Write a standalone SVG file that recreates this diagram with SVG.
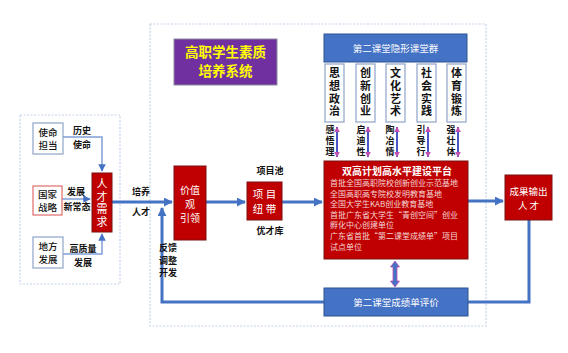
<svg xmlns="http://www.w3.org/2000/svg" width="568" height="353" viewBox="0 0 568 353">
<defs>
<style>
text{font-family:"Noto Sans CJK SC","Noto Sans",sans-serif;}
.frame{fill:none;stroke:#c5d3ec;stroke-width:1.2;stroke-dasharray:2 1.5;}
.wbox{fill:#fff;stroke:#8ea3c8;stroke-width:1.2;}
.red{fill:#c00000;stroke:#7a1010;stroke-width:1;}
.blue{fill:#4472c4;stroke:#2f528f;stroke-width:1;}
.lbl{font-size:9px;font-weight:bold;fill:#111;text-anchor:middle;}
.nt{font-size:9.5px;fill:#111;text-anchor:middle;font-weight:500;}
.wt{fill:#fff;text-anchor:middle;}
.vt{font-size:11px;font-weight:bold;fill:#111;text-anchor:middle;writing-mode:vertical-rl;letter-spacing:1.6px;}
.vl{font-size:9px;font-weight:bold;fill:#111;text-anchor:middle;writing-mode:vertical-rl;letter-spacing:2px;}
.thin{fill:none;stroke:#7f9fd6;stroke-width:1.5;}
.thick{fill:none;stroke:#4472c4;stroke-width:3;}
.dbl{stroke:#4a56c8;stroke-width:2;}
</style>
<marker id="ah" viewBox="0 0 10 10" refX="9" refY="5" markerWidth="3" markerHeight="3" orient="auto-start-reverse"><path d="M0,0L10,5L0,10z" fill="#4472c4"/></marker>
<marker id="ahs" viewBox="0 0 10 10" refX="9" refY="5" markerWidth="5" markerHeight="5" orient="auto-start-reverse"><path d="M0,0L10,5L0,10z" fill="#4472c4"/></marker>
<marker id="ahp" viewBox="0 0 10 10" refX="9" refY="5" markerWidth="3" markerHeight="3" orient="auto-start-reverse"><path d="M0,0L10,5L0,10z" fill="#c04fb0"/></marker>
</defs>

<rect class="frame" x="20" y="115" width="100" height="169"/>
<rect class="frame" x="150" y="24" width="336" height="302"/>

<g id="connectors">
<path class="thin" d="M63,137H102V171" marker-end="url(#ahs)"/>
<path class="thin" d="M62,199H90" marker-end="url(#ahs)"/>
<path class="thin" d="M63,254H102V234" marker-end="url(#ahs)"/>
<path class="thick" d="M112,202H172" marker-end="url(#ah)"/>
<path class="thick" d="M206,202H245" marker-end="url(#ah)"/>
<path class="thick" d="M282,202H322" marker-end="url(#ah)"/>
<path class="thick" d="M468,201H503" marker-end="url(#ah)"/>
<path class="thick" d="M529,220V302H468"/>
<path class="thick" d="M324,302H162V208" marker-end="url(#ah)"/>
<path d="M395,261L399.5,267H397V281H399.5L395,287L390.5,281H393V267H390.5Z" fill="#4472c4" stroke="#c04fb0" stroke-width="0.8"/>
<g>
<line class="dbl" x1="337" y1="127" x2="337" y2="157" marker-start="url(#ahp)" marker-end="url(#ahp)"/>
<line class="dbl" x1="368" y1="127" x2="368" y2="157" marker-start="url(#ahp)" marker-end="url(#ahp)"/>
<line class="dbl" x1="397" y1="127" x2="397" y2="157" marker-start="url(#ahp)" marker-end="url(#ahp)"/>
<line class="dbl" x1="428" y1="127" x2="428" y2="157" marker-start="url(#ahp)" marker-end="url(#ahp)"/>
<line class="dbl" x1="458" y1="127" x2="458" y2="157" marker-start="url(#ahp)" marker-end="url(#ahp)"/>
</g>
<text class="lbl" x="82" y="134">历史<tspan x="82" dy="14">使命</tspan></text>
<text class="lbl" x="76" y="195">发展<tspan x="77" dy="15">新常态</tspan></text>
<text class="lbl" x="83" y="252">高质量<tspan x="83" dy="14">发展</tspan></text>
<text class="lbl" x="141" y="195">培养<tspan x="141" dy="20">人才</tspan></text>
<text class="lbl" x="270" y="174">项目池</text>
<text class="lbl" x="270" y="234">优才库</text>
<text class="lbl" x="168" y="251" text-anchor="start">反馈<tspan x="168" dy="12.5">调整</tspan><tspan x="168" dy="12.5">开发</tspan></text>
<text class="vl" x="330" y="142">感悟理</text>
<text class="vl" x="361" y="142">启迪性</text>
<text class="vl" x="390" y="142">陶冶情</text>
<text class="vl" x="421" y="142">引导行</text>
<text class="vl" x="451" y="142">强壮体</text>
</g>

<g id="shiming">
<rect class="wbox" x="33" y="123" width="30" height="31"/>
<text class="nt" x="48" y="135.5">使命<tspan x="48" dy="13.5">担当</tspan></text>
</g>
<g id="guojia">
<rect x="33" y="186" width="29" height="29" fill="#fff" stroke="#e06c6c" stroke-width="1.2"/>
<text class="nt" x="47.5" y="197.5">国家<tspan x="47.5" dy="13.5">战略</tspan></text>
</g>
<g id="difang">
<rect class="wbox" x="33" y="237" width="30" height="31"/>
<text class="nt" x="48" y="249.5">地方<tspan x="48" dy="13.5">发展</tspan></text>
</g>
<g id="rencai">
<rect class="red" x="92" y="173" width="20" height="59"/>
<text class="wt" font-size="11" x="102" y="203.5" style="writing-mode:vertical-rl;letter-spacing:1.6px">人才需求</text>
</g>
<g id="title">
<rect x="174" y="39" width="103" height="46" fill="#7030a0" stroke="#8a8a9a" stroke-width="1"/>
<text x="225.5" y="57" font-size="13.5" font-weight="bold" fill="#ffff00" text-anchor="middle">高职学生素质<tspan x="225.5" dy="19">培养系统</tspan></text>
</g>
<g id="jiazhi">
<rect class="red" x="174" y="166" width="32" height="74"/>
<text class="wt" font-size="10" x="190" y="194">价值<tspan x="190" dy="14">观</tspan><tspan x="190" dy="14">引领</tspan></text>
</g>
<g id="xiangmu">
<rect class="red" x="247" y="182" width="35" height="38"/>
<text class="wt" font-size="10.5" x="264.5" y="197.5">项 目<tspan x="264.5" dy="15">纽 带</tspan></text>
</g>
<g id="yinxing">
<rect class="blue" x="324" y="34" width="143" height="28"/>
<text class="wt" x="395.5" y="51.5" font-size="9.5">第二课堂隐形课堂群</text>
</g>
<g id="courses">
<rect class="wbox" x="325" y="64" width="19" height="58"/>
<rect class="wbox" x="356" y="64" width="19" height="58"/>
<rect class="wbox" x="386" y="64" width="19" height="58"/>
<rect class="wbox" x="417" y="64" width="19" height="58"/>
<rect class="wbox" x="447" y="64" width="19" height="58"/>
<text class="vt" x="334.5" y="93">思想政治</text>
<text class="vt" x="365.5" y="93">创新创业</text>
<text class="vt" x="395.5" y="93">文化艺术</text>
<text class="vt" x="426.5" y="93">社会实践</text>
<text class="vt" x="456.5" y="93">体育锻炼</text>
</g>
<g id="shuanggao">
<rect class="red" x="324" y="161" width="144" height="98"/>
<text class="wt" x="397" y="175" font-size="10" font-weight="bold">双高计划高水平建设平台</text>
<text font-size="8" fill="#f4d6d6" x="330" y="186">首批全国高职院校创新创业示范基地<tspan x="330" dy="10.5">全国高职高专院校发明教育基地</tspan><tspan x="330" dy="10.5">全国大学生KAB创业教育基地</tspan><tspan x="330" dy="10.5">首批广东省大学生“青创空间”创业</tspan><tspan x="330" dy="10.5">孵化中心创建单位</tspan><tspan x="330" dy="11">广东省首批“第二课堂成绩单”项目</tspan><tspan x="330" dy="11">试点单位</tspan></text>
</g>
<g id="chengguo">
<rect class="red" x="505" y="175" width="47" height="45"/>
<text class="wt" font-size="9.5" x="528.5" y="195">成果输出<tspan x="528.5" dy="13.5">人 才</tspan></text>
</g>
<g id="pingjia">
<rect class="blue" x="324" y="288" width="144" height="28"/>
<text class="wt" x="396" y="305.5" font-size="9.5">第二课堂成绩单评价</text>
</g>
</svg>
